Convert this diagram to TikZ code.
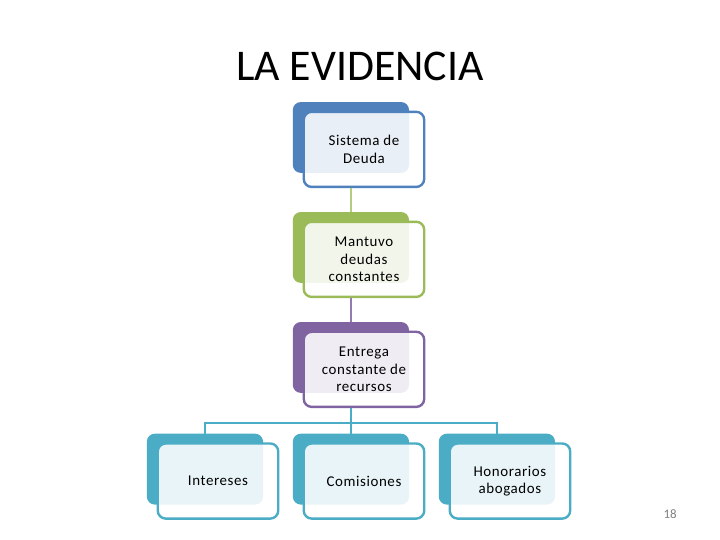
\documentclass[tikz,border=0pt]{standalone}
\usepackage{fontspec}
\setmainfont{Carlito}
\usetikzlibrary{positioning}
\definecolor{Blue}{HTML}{4F81BD}
\definecolor{Green}{HTML}{9BBB59}
\definecolor{Purple}{HTML}{8064A2}
\definecolor{Teal}{HTML}{4BACC6}

\begin{document}
\begin{tikzpicture}[
  back/.style={fill=#1,rounded corners=8pt,minimum width=4.1cm,minimum height=2.5cm,inner sep=0pt},
  front/.style={draw=#1,line width=2.4pt,fill=white,fill opacity=0.88,text opacity=1,rounded corners=8pt,
    minimum width=4.25cm,minimum height=2.65cm,inner sep=0pt,align=center,xshift=0.46cm,yshift=-0.42cm,
    font=\fontsize{15}{17.5}\selectfont\addfontfeature{LetterSpace=4}},
  link/.style={draw=#1,line width=2.4pt},
  title/.style={font=\fontsize{44}{52}\selectfont},
  pagenum/.style={font=\fontsize{13}{15}\selectfont,text=gray}
]
  \path[use as bounding box] (0,0) rectangle (25.4,19.05);

  \node[title] (ttl) at (12.70,16.69) {LA EVIDENCIA};

  \node[back=Blue] (b1) at (12.38,14.20) {};
  \node[front=Blue] (f1) at (b1) {Sistema de\\Deuda};

  \node[back=Green] (b2) at (12.38,10.32) {};
  \node[front=Green] (f2) at (b2) {Mantuvo\\deudas\\constantes};

  \node[back=Purple] (b3) at (12.38,6.44) {};
  \node[front=Purple] (f3) at (b3) {Entrega\\constante de\\recursos};

  \node[back=Teal] (b4) at (7.23,2.50) {};
  \node[front=Teal] (f4) at (b4) {Intereses};

  \node[back=Teal] (b5) at (12.38,2.50) {};
  \node[front=Teal] (f5) at (b5) {Comisiones};

  \node[back=Teal] (b6) at (17.53,2.50) {};
  \node[front=Teal] (f6) at (b6) {Honorarios\\abogados};

  \draw[link=Green!75] (b2.north) -- (b2.north |- f1.south);
  \draw[link=Purple!85] (b3.north) -- (b3.north |- f2.south);

  \coordinate (fork) at (12.38,4.13);
  \draw[link=Teal] (b3.center |- f3.south) -- (fork);
  \draw[link=Teal] (b4.north) |- (fork) -| (b6.north);
  \draw[link=Teal] (fork) -- (b5.north);

  \node[pagenum] (pg) at (23.64,0.92) {18};
\end{tikzpicture}
\end{document}
